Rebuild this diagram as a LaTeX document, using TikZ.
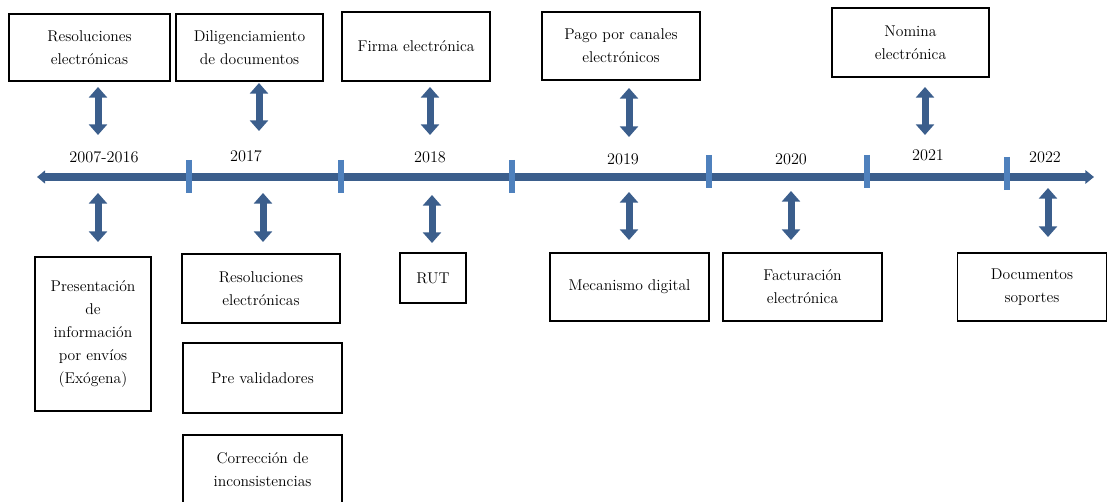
\documentclass[tikz,border=0pt]{standalone}
\usetikzlibrary{arrows.meta}
\definecolor{arrowblue}{RGB}{59,94,140}
\definecolor{tickblue}{RGB}{79,129,189}
\begin{document}
\begin{tikzpicture}[x=0.75pt,y=-0.75pt,
  box/.style={draw=black,line width=1.4pt,align=center,inner sep=0pt,
    font=\fontsize{11.7}{17.25}\selectfont},
  year/.style={inner sep=0pt,font=\fontsize{12.2}{15}\selectfont},
  link/.style={draw=arrowblue,line width=5.25pt,
    {Triangle[width=13.5pt,length=8pt]}-{Triangle[width=13.5pt,length=8pt]}},
  axis/.style={draw=arrowblue,line width=5.5pt,
    {Triangle[width=9.5pt,length=6pt]}-{Triangle[width=10pt,length=6.5pt]}},
  yeartick/.style={draw=tickblue,line width=4.5pt}]
\useasboundingbox (0,0) rectangle (1109,502);

% timeline axis
\coordinate (axL) at (37,177);
\coordinate (axR) at (1094,177);
\draw[axis] (axL) -- (axR);

% separators between periods
\foreach \n/\x/\ya/\yb in {s1/189/160/193, s2/341/160/193, s3/512/160/193,
                          s4/709/155/188, s5/867/155/188, s6/1007/157/190}{
  \coordinate (\n a) at (\x,\ya);
  \coordinate (\n b) at (\x,\yb);
  \draw[yeartick] (\n a) -- (\n b);
}

% year labels
\node[year] (y1) at (104,157) {2007-2016};
\node[year] (y2) at (246,156) {2017};
\node[year] (y3) at (430,157) {2018};
\node[year] (y4) at (623,159) {2019};
\node[year] (y5) at (791,159) {2020};
\node[year] (y6) at (928,155) {2021};
\node[year] (y7) at (1045,157) {2022};

% upper boxes
\node[box,minimum width=120.75pt,minimum height=50.25pt] (t1) at (89.5,47.5)
  {Resoluciones\\electrónicas};
\node[box,minimum width=110.25pt,minimum height=50.25pt] (t2) at (249.5,47.5)
  {Diligenciamiento\\de documentos};
\node[box,minimum width=111pt,minimum height=51.75pt] (t3) at (416,46.5)
  {Firma electrónica};
\node[box,minimum width=118.5pt,minimum height=51pt] (t4) at (621,46)
  {Pago por canales\\electrónicos};
\node[box,minimum width=117.75pt,minimum height=51.75pt] (t5) at (910.5,42.5)
  {Nomina\\electrónica};

% lower boxes
\node[box,minimum width=87pt,minimum height=115.5pt] (b1) at (93,334)
  {Presentación\\de\\información\\por envíos\\(Exógena)};
\node[box,minimum width=118.5pt,minimum height=51.75pt] (b2) at (261,288.5)
  {Resoluciones\\electrónicas};
\node[box,minimum width=119.25pt,minimum height=52.5pt] (b3) at (262.5,378)
  {Pre validadores};
\node[box,minimum width=119.25pt,minimum height=52.5pt] (b4) at (262.5,470)
  {Corrección de\\inconsistencias};
\node[box,minimum width=49.5pt,minimum height=37.5pt] (b5) at (433,278)
  {RUT};
\node[box,minimum width=119.25pt,minimum height=51pt] (b6) at (629.5,287)
  {Mecanismo digital};
\node[box,minimum width=119.25pt,minimum height=51pt] (b7) at (802.5,287)
  {Facturación\\electrónica};
\node[box,minimum width=111.75pt,minimum height=51pt] (b8) at (1032,287)
  {Documentos\\soportes};

% double arrows above the axis
\foreach \n/\x/\ya/\yb in {u1/98/87/135, u2/259/83/131, u3/430/87/135,
                          u4/629/88/137, u5/925/87/135}{
  \coordinate (\n a) at (\x,\ya);
  \coordinate (\n b) at (\x,\yb);
  \draw[link] (\n a) -- (\n b);
}

% double arrows below the axis
\foreach \n/\x/\ya/\yb in {d1/98/193/242, d2/263/193/242, d3/432/195/243,
                          d4/629/192/240, d5/791/191/240, d6/1048/188/237}{
  \coordinate (\n a) at (\x,\ya);
  \coordinate (\n b) at (\x,\yb);
  \draw[link] (\n a) -- (\n b);
}
\end{tikzpicture}
\end{document}
